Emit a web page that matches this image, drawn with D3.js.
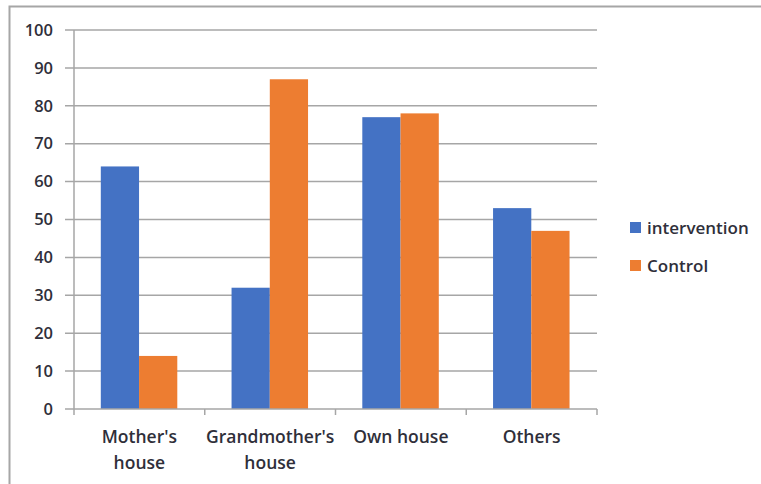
<!DOCTYPE html>
<html>
<head>
<meta charset="utf-8">
<script src="https://cdn.jsdelivr.net/npm/d3@7"></script>
<style>
  body { margin: 0; background: #fff; }
  svg text { font-family: "Open Sans", sans-serif; font-weight: 600; fill: #2f2f3a; }
</style>
</head>
<body>
<svg id="chart" width="761" height="484"></svg>
<script>
const categories = [["Mother's", "house"], ["Grandmother's", "house"], ["Own house"], ["Others"]];
const seriesNames = ["intervention", "Control"];
const intervention = [64, 32, 77, 53];
const control = [14, 87, 78, 47];
const yTicks = [0, 10, 20, 30, 40, 50, 60, 70, 80, 90, 100];
const colors = ["#4472C4", "#ED7D31"];

const svg = d3.select("#chart");

// frame around the picture (only top and left show)
svg.append("path")
  .attr("d", "M9.5,484 V6.5 H761")
  .attr("fill", "none")
  .attr("stroke", "#a6a6a6")
  .attr("stroke-width", 2);

const plotLeft = 74, plotRight = 597, plotTop = 30, plotBottom = 409;

const keys = categories.map(c => c.join(" "));
const x = d3.scaleBand().domain(keys).range([plotLeft, plotRight]);
const x1 = d3.scaleBand().domain(seriesNames)
  .range([x.bandwidth() * 0.205, x.bandwidth() * 0.79]);
const y = d3.scaleLinear().domain([0, 100]).range([plotBottom, plotTop]);

// gridlines
svg.append("g").selectAll("line")
  .data(yTicks.filter(d => d > 0))
  .enter().append("line")
  .attr("x1", plotLeft - 9).attr("x2", plotRight)
  .attr("y1", d => y(d)).attr("y2", d => y(d))
  .attr("stroke", "#a6a6a6").attr("stroke-width", 1.5);

// y labels
svg.append("g").selectAll("text")
  .data(yTicks)
  .enter().append("text")
  .attr("x", 53)
  .attr("y", d => y(d))
  .attr("dy", "0.35em")
  .attr("text-anchor", "end")
  .style("font-size", "16.5px")
  .text(d => d);

// bars
const rows = keys.map((k, i) => ({ key: k, vals: [intervention[i], control[i]] }));
const groups = svg.append("g").selectAll("g")
  .data(rows)
  .enter().append("g")
  .attr("transform", d => "translate(" + x(d.key) + ",0)");

groups.selectAll("rect")
  .data(d => d.vals.map((v, j) => ({ name: seriesNames[j], v: v, j: j })))
  .enter().append("rect")
  .attr("x", d => x1(d.name))
  .attr("width", x1.bandwidth())
  .attr("y", d => y(d.v))
  .attr("height", d => y(0) - y(d.v))
  .attr("fill", d => colors[d.j]);

// y axis line
svg.append("line")
  .attr("x1", plotLeft).attr("x2", plotLeft)
  .attr("y1", plotTop).attr("y2", plotBottom)
  .attr("stroke", "#a6a6a6").attr("stroke-width", 1.5);

// x axis with category ticks
const xAxis = svg.append("g");
xAxis.append("line")
  .attr("x1", plotLeft - 9).attr("x2", plotRight)
  .attr("y1", plotBottom).attr("y2", plotBottom)
  .attr("stroke", "#a6a6a6").attr("stroke-width", 1.5);
xAxis.selectAll("line.tick")
  .data(keys.map(k => x(k)).concat([plotRight]))
  .enter().append("line")
  .attr("class", "tick")
  .attr("x1", d => d).attr("x2", d => d)
  .attr("y1", plotBottom).attr("y2", plotBottom + 6)
  .attr("stroke", "#a6a6a6").attr("stroke-width", 1.5);

// category labels
const lab = svg.append("g").selectAll("text")
  .data(categories)
  .enter().append("text")
  .attr("x", (d, i) => x(keys[i]) + x.bandwidth() / 2)
  .attr("y", 437)
  .attr("text-anchor", "middle")
  .style("font-size", "17.5px");
lab.selectAll("tspan")
  .data(d => d)
  .enter().append("tspan")
  .attr("x", function () { return d3.select(this.parentNode).attr("x"); })
  .attr("dy", (d, i) => i === 0 ? "0.35em" : "26")
  .text(d => d);

// legend
const legend = svg.append("g").selectAll("g")
  .data(seriesNames)
  .enter().append("g")
  .attr("transform", (d, i) => "translate(630," + (222 + i * 38) + ")");
legend.append("rect")
  .attr("width", 11).attr("height", 11)
  .attr("fill", (d, i) => colors[i]);
legend.append("text")
  .attr("x", 17).attr("y", 6)
  .attr("dy", "0.35em")
  .style("font-size", "17px")
  .text(d => d);
</script>
</body>
</html>
